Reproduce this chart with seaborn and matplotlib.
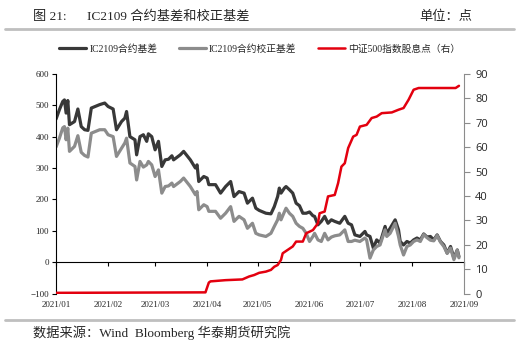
import pandas as pd
import matplotlib
matplotlib.use("Agg")
import matplotlib.pyplot as plt
import matplotlib.dates as mdates
import seaborn as sns
from matplotlib.lines import Line2D

# data
basis_dates = ["2021-01-01", "2021-01-03", "2021-01-05", "2021-01-06", "2021-01-07", "2021-01-08",
               "2021-01-09", "2021-01-12", "2021-01-14", "2021-01-16", "2021-01-18", "2021-01-20",
               "2021-01-22", "2021-01-27", "2021-01-30", "2021-02-01", "2021-02-04", "2021-02-06",
               "2021-02-09", "2021-02-11", "2021-02-12", "2021-02-14", "2021-02-17", "2021-02-18",
               "2021-02-20", "2021-02-22", "2021-02-24", "2021-02-25", "2021-02-27", "2021-03-01",
               "2021-03-03", "2021-03-05", "2021-03-07", "2021-03-09", "2021-03-11", "2021-03-12",
               "2021-03-16", "2021-03-18", "2021-03-22", "2021-03-25", "2021-03-26", "2021-03-27",
               "2021-03-30", "2021-04-01", "2021-04-02", "2021-04-06", "2021-04-09", "2021-04-12",
               "2021-04-15", "2021-04-17", "2021-04-20", "2021-04-23", "2021-04-25", "2021-04-28",
               "2021-04-30", "2021-05-02", "2021-05-06", "2021-05-09", "2021-05-11", "2021-05-13",
               "2021-05-14", "2021-05-15", "2021-05-17", "2021-05-18", "2021-05-20", "2021-05-22",
               "2021-05-24", "2021-05-26", "2021-05-28", "2021-05-30", "2021-06-01", "2021-06-03",
               "2021-06-04", "2021-06-06", "2021-06-08", "2021-06-10", "2021-06-12", "2021-06-14",
               "2021-06-16", "2021-06-19", "2021-06-22", "2021-06-24", "2021-06-26", "2021-06-28",
               "2021-07-01", "2021-07-04", "2021-07-05", "2021-07-07", "2021-07-09", "2021-07-11",
               "2021-07-13", "2021-07-16", "2021-07-17", "2021-07-19", "2021-07-22", "2021-07-24",
               "2021-07-25", "2021-07-27", "2021-07-29", "2021-07-31", "2021-08-02", "2021-08-04",
               "2021-08-06", "2021-08-08", "2021-08-10", "2021-08-12", "2021-08-14", "2021-08-16",
               "2021-08-18", "2021-08-20", "2021-08-22", "2021-08-24", "2021-08-26", "2021-08-28",
               "2021-08-29"]
basis = [456, 486, 512, 517, 475, 515, 438, 448, 488, 432, 422, 420,
         491, 502, 507, 496, 488, 422, 448, 459, 480, 400, 390, 342,
         400, 406, 385, 409, 400, 358, 385, 305, 326, 328, 339, 326,
         342, 353, 326, 300, 310, 257, 273, 268, 247, 247, 220, 241,
         257, 209, 225, 220, 188, 204, 172, 165, 156, 154, 177, 209,
         236, 220, 236, 241, 231, 220, 188, 180, 156, 156, 160, 148,
         146, 119, 130, 146, 124, 135, 130, 124, 146, 124, 119, 87,
         82, 98, 87, 82, 45, 71, 61, 114, 92, 108, 135, 103,
         66, 55, 66, 61, 71, 77, 71, 90, 80, 82, 71, 87,
         66, 55, 29, 50, 13, 39, 18]
basis_adj = [367, 395, 428, 432, 390, 427, 353, 369, 403, 350, 340, 335,
             411, 422, 422, 406, 400, 337, 363, 380, 395, 316, 305, 262,
             321, 303, 310, 321, 310, 273, 294, 220, 241, 243, 252, 241,
             257, 268, 241, 215, 225, 167, 183, 177, 162, 162, 140, 156,
             177, 130, 146, 135, 108, 124, 92, 87, 82, 92, 114, 135,
             156, 135, 160, 172, 156, 146, 124, 114, 108, 92, 66, 82,
             92, 71, 66, 92, 71, 80, 84, 87, 103, 66, 66, 70,
             66, 77, 71, 13, 39, 50, 55, 103, 82, 92, 124, 82,
             55, 23, 50, 55, 66, 71, 66, 88, 78, 70, 68, 85,
             64, 50, 28, 45, 8, 38, 14]

div_dates = ["2021-01-01", "2021-03-31", "2021-04-02", "2021-04-03", "2021-04-12", "2021-04-22",
             "2021-04-26", "2021-04-29", "2021-05-02", "2021-05-06", "2021-05-09", "2021-05-11",
             "2021-05-13", "2021-05-15", "2021-05-16", "2021-05-19", "2021-05-22", "2021-05-24",
             "2021-05-28", "2021-05-30", "2021-06-03", "2021-06-06", "2021-06-07", "2021-06-10",
             "2021-06-12", "2021-06-16", "2021-06-18", "2021-06-20", "2021-06-22", "2021-06-24",
             "2021-06-27", "2021-06-29", "2021-07-01", "2021-07-05", "2021-07-08", "2021-07-11",
             "2021-07-14", "2021-07-20", "2021-07-24", "2021-07-27", "2021-07-30", "2021-08-02",
             "2021-08-05", "2021-08-27", "2021-08-29"]
div_points = [0.3, 0.5, 4.5, 5.0, 5.5, 5.8, 7.0, 7.6, 8.5, 9.0, 9.7, 11.0,
              11.7, 13.8, 16.5, 17.9, 19.3, 21.3, 21.3, 24.7, 26.0, 28.8, 32.9, 33.6,
              39.8, 40.4, 45.2, 52.0, 53.4, 59.6, 64.3, 65.0, 68.4, 69.1, 71.9, 72.5,
              73.9, 74.2, 75.3, 76.0, 79.4, 83.5, 84.2, 84.2, 85.1]

labels = ["IC2109合约基差", "IC2109合约校正基差", "中证500指数股息点（右）"]
colors = ["#383838", "#8c8c8c", "#e3000f"]

df_basis = pd.DataFrame({"date": pd.to_datetime(basis_dates), "basis": basis, "adj": basis_adj})
df_div = pd.DataFrame({"date": pd.to_datetime(div_dates), "div": div_points})

sns.set_theme(style="white")
plt.rcParams["font.family"] = ["Liberation Serif", "Noto Sans CJK SC", "DejaVu Sans"]

fig = plt.figure(figsize=(5.19, 3.62), dpi=100)
ax = fig.add_axes([0.108, 0.189, 0.786, 0.607])

sns.lineplot(data=df_basis, x="date", y="basis", ax=ax, color=colors[0], lw=2.3)
sns.lineplot(data=df_basis, x="date", y="adj", ax=ax, color=colors[1], lw=2.3)
ax.set_ylim(-100, 600)
ax.set_xlim(pd.Timestamp("2021-01-01"), pd.Timestamp("2021-09-01"))
ax.set_xlabel("")
ax.set_ylabel("")
ax.set_yticks(range(-100, 601, 100))
ax.tick_params(axis="y", labelsize=6.5, length=3, width=0.8, color="black", pad=2, left=True)
ax.xaxis.set_major_locator(mdates.MonthLocator())
ax.xaxis.set_major_formatter(mdates.DateFormatter("%Y/%m"))
ax.spines["bottom"].set_position(("data", 0))
ax.tick_params(axis="x", labelsize=6.5, length=3, width=0.8, color="black", pad=25, bottom=True)
for s in ["top", "right"]:
    ax.spines[s].set_visible(False)
ax.spines["left"].set_color("black")
ax.spines["left"].set_linewidth(0.8)
ax.spines["bottom"].set_color("black")
ax.spines["bottom"].set_linewidth(0.8)

ax2 = ax.twinx()
sns.lineplot(data=df_div, x="date", y="div", ax=ax2, color=colors[2], lw=1.8)
ax2.set_ylim(0, 90)
ax2.set_yticks(range(0, 91, 10))
ax2.set_ylabel("")
ax2.set_xlabel("")
for s in ["top", "left", "bottom"]:
    ax2.spines[s].set_visible(False)
ax2.spines["right"].set_color("#8c8c8c")
ax2.spines["right"].set_linewidth(0.8)
ax2.tick_params(axis="y", labelsize=8, length=4, width=0.8, color="#8c8c8c", pad=4, right=True)
for t in ax2.get_yticklabels():
    t.set_family(["Open Sans", "DejaVu Sans"])

handles = [Line2D([], [], color=c, lw=2.3 if i < 2 else 1.8) for i, c in enumerate(colors)]
fig.legend(handles, labels, loc="center", bbox_to_anchor=(0.5, 0.865), ncol=3, frameon=False,
           fontsize=7, handlelength=2.8, columnspacing=2.2, handletextpad=0.3)

# header and footer
fig.text(0.064, 0.953, "图 21:", fontsize=9.5, va="center")
fig.text(0.168, 0.953, "IC2109 合约基差和校正基差", fontsize=9.5, va="center")
fig.text(0.91, 0.953, "单位：点", fontsize=9.5, va="center", ha="right")
fig.add_artist(Line2D([0.01, 0.99], [0.92, 0.92], color="#bfbfbf", lw=2))
fig.add_artist(Line2D([0.01, 0.99], [0.117, 0.117], color="#bfbfbf", lw=2))
fig.text(0.064, 0.08, "数据来源：Wind  Bloomberg 华泰期货研究院", fontsize=9.5, va="center")

fig.savefig("out.png", dpi=100)
